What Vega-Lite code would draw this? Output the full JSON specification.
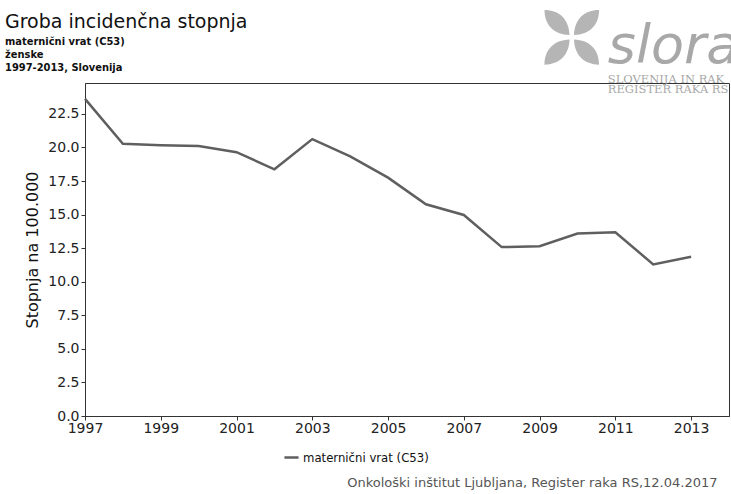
{
  "$schema": "https://vega.github.io/schema/vega-lite/v6.json",
  "width": 644,
  "height": 333,
  "autosize": {"type": "none"},
  "padding": {"left": 85, "top": 83, "right": 2, "bottom": 78},
  "background": "white",
  "title": {
    "text": "Groba incidenčna stopnja",
    "subtitle": ["maternični vrat  (C53)", "ženske", "1997-2013, Slovenija"],
    "anchor": "start",
    "frame": "group",
    "dx": -80,
    "dy": 71,
    "offset": 8,
    "font": "DejaVu Sans",
    "fontSize": 19,
    "fontWeight": "normal",
    "color": "#111",
    "subtitleFont": "DejaVu Sans Condensed",
    "subtitleFontSize": 11,
    "subtitleFontWeight": "bold",
    "subtitleColor": "#111",
    "subtitleLineHeight": 13,
    "subtitlePadding": 4
  },
  "config": {
    "view": {"stroke": "#333", "strokeWidth": 1},
    "font": "DejaVu Sans",
    "axis": {"grid": false, "domainColor": "#333", "tickColor": "#333", "labelColor": "#222", "labelFont": "DejaVu Sans", "titleFont": "DejaVu Sans", "labelOverlap": false}
  },
  "layer": [
    {
      "data": {"values": [
        {"year": 1997, "rate": 23.62, "series": "maternični vrat (C53)"},
        {"year": 1998, "rate": 20.27, "series": "maternični vrat (C53)"},
        {"year": 1999, "rate": 20.17, "series": "maternični vrat (C53)"},
        {"year": 2000, "rate": 20.10, "series": "maternični vrat (C53)"},
        {"year": 2001, "rate": 19.65, "series": "maternični vrat (C53)"},
        {"year": 2002, "rate": 18.37, "series": "maternični vrat (C53)"},
        {"year": 2003, "rate": 20.62, "series": "maternični vrat (C53)"},
        {"year": 2004, "rate": 19.33, "series": "maternični vrat (C53)"},
        {"year": 2005, "rate": 17.75, "series": "maternični vrat (C53)"},
        {"year": 2006, "rate": 15.77, "series": "maternični vrat (C53)"},
        {"year": 2007, "rate": 14.97, "series": "maternični vrat (C53)"},
        {"year": 2008, "rate": 12.58, "series": "maternični vrat (C53)"},
        {"year": 2009, "rate": 12.65, "series": "maternični vrat (C53)"},
        {"year": 2010, "rate": 13.59, "series": "maternični vrat (C53)"},
        {"year": 2011, "rate": 13.69, "series": "maternični vrat (C53)"},
        {"year": 2012, "rate": 11.29, "series": "maternični vrat (C53)"},
        {"year": 2013, "rate": 11.86, "series": "maternični vrat (C53)"}
      ]},
      "mark": {"type": "line", "strokeWidth": 2.5},
      "encoding": {
        "x": {
          "field": "year", "type": "quantitative",
          "scale": {"domain": [1997, 2014], "nice": false, "zero": false},
          "axis": {
            "values": [1997, 1999, 2001, 2003, 2005, 2007, 2009, 2011, 2013],
            "format": "d", "labelFontSize": 14, "tickSize": 4, "labelPadding": 1,
            "labelFlush": false,
            "title": "Onkološki inštitut Ljubljana, Register raka RS,12.04.2017",
            "titleAnchor": "end", "titleAlign": "right", "titleBaseline": "alphabetic",
            "titleX": 632, "titleY": 70,
            "titleFontSize": 13, "titleFontWeight": "normal", "titleColor": "#555"
          }
        },
        "y": {
          "field": "rate", "type": "quantitative",
          "scale": {"domain": [0, 24.8], "nice": false},
          "axis": {
            "values": [0, 2.5, 5, 7.5, 10, 12.5, 15, 17.5, 20, 22.5],
            "format": ".1f", "labelFontSize": 14, "tickSize": 4, "labelPadding": 2,
            "labelFlush": false,
            "title": "Stopnja na 100.000", "titleFontSize": 16, "titleFontWeight": "normal",
            "titleColor": "#111", "titlePadding": 7
          }
        },
        "stroke": {
          "field": "series", "type": "nominal",
          "scale": {"range": ["#5f5f5f"]},
          "legend": {
            "title": null, "orient": "none", "legendX": 198, "legendY": 366,
            "symbolType": "stroke", "symbolStrokeWidth": 2.5, "symbolSize": 200,
            "labelFontSize": 13, "labelColor": "#111", "labelFont": "DejaVu Sans Condensed", "labelOffset": 3
          }
        }
      }
    },
    {
      "data": {"values": [{"t": "slora"}]},
      "mark": {"type": "text", "fontSize": 54, "font": "DejaVu Sans", "fontStyle": "italic", "color": "#a8a8a8", "align": "left", "baseline": "alphabetic"},
      "encoding": {
        "text": {"field": "t"},
        "x": {"datum": 2010.8, "type": "quantitative", "axis": {"values": [1997, 1999, 2001, 2003, 2005, 2007, 2009, 2011, 2013]}},
        "y": {"datum": 26.3, "type": "quantitative", "axis": {"values": [0, 2.5, 5, 7.5, 10, 12.5, 15, 17.5, 20, 22.5]}}
      }
    },
    {
      "data": {"values": [{"t": "SLOVENIJA IN RAK"}]},
      "mark": {"type": "text", "fontSize": 11.5, "font": "DejaVu Serif", "color": "#a8a8a8", "align": "left", "baseline": "alphabetic"},
      "encoding": {
        "text": {"field": "t"},
        "x": {"datum": 2010.8, "type": "quantitative", "axis": {"values": [1997, 1999, 2001, 2003, 2005, 2007, 2009, 2011, 2013]}},
        "y": {"datum": 24.83, "type": "quantitative", "axis": {"values": [0, 2.5, 5, 7.5, 10, 12.5, 15, 17.5, 20, 22.5]}}
      }
    },
    {
      "data": {"values": [{"t": "REGISTER RAKA RS"}]},
      "mark": {"type": "text", "fontSize": 11.5, "font": "DejaVu Serif", "color": "#a8a8a8", "align": "left", "baseline": "alphabetic"},
      "encoding": {
        "text": {"field": "t"},
        "x": {"datum": 2010.8, "type": "quantitative", "axis": {"values": [1997, 1999, 2001, 2003, 2005, 2007, 2009, 2011, 2013]}},
        "y": {"datum": 24.05, "type": "quantitative", "axis": {"values": [0, 2.5, 5, 7.5, 10, 12.5, 15, 17.5, 20, 22.5]}}
      }
    },
    {
      "data": {"values": [{"t": "logo"}]},
      "mark": {"type": "point", "filled": true, "color": "#b5b5b5", "opacity": 1, "size": 3100,
        "shape": "M0.08,-0.08 C0.1,-0.65 0.45,-0.98 0.98,-0.98 C0.98,-0.45 0.65,-0.1 0.08,-0.08 Z M-0.08,-0.08 C-0.1,-0.65 -0.45,-0.98 -0.98,-0.98 C-0.98,-0.45 -0.65,-0.1 -0.08,-0.08 Z M0.08,0.08 C0.1,0.65 0.45,0.98 0.98,0.98 C0.98,0.45 0.65,0.1 0.08,0.08 Z M-0.08,0.08 C-0.1,0.65 -0.45,0.98 -0.98,0.98 C-0.98,0.45 -0.65,0.1 -0.08,0.08 Z"},
      "encoding": {
        "x": {"datum": 2009.85, "type": "quantitative", "axis": {"values": [1997, 1999, 2001, 2003, 2005, 2007, 2009, 2011, 2013]}},
        "y": {"datum": 28.2, "type": "quantitative", "axis": {"values": [0, 2.5, 5, 7.5, 10, 12.5, 15, 17.5, 20, 22.5]}}
      }
    }
  ]
}
